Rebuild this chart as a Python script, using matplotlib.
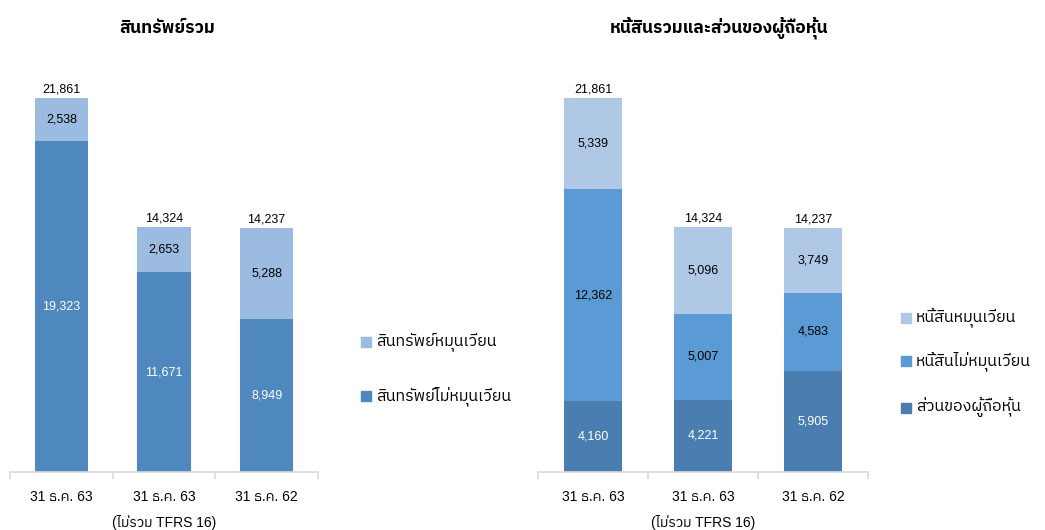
import matplotlib
matplotlib.use('Agg')
import matplotlib.pyplot as plt
from matplotlib import font_manager
from matplotlib.ft2font import FT2Font
from matplotlib.patches import Rectangle

# find a font with Thai glyphs
thai = None
for f in font_manager.fontManager.ttflist:
    try:
        if 0x0E2A in FT2Font(f.fname).get_charmap():
            thai = f.name
            if 'Sans' in f.name:
                break
    except Exception:
        pass
fams = ['Liberation Sans'] + ([thai] if thai else []) + ['DejaVu Sans']
plt.rcParams['font.family'] = fams

categories = ['31 ธ.ค. 63', '31 ธ.ค. 63\n(ไม่รวม TFRS 16)', '31 ธ.ค. 62']
totals = [21861, 14324, 14237]

# assets
noncurrent_assets = [19323, 11671, 8949]
current_assets = [2538, 2653, 5288]

# liabilities and equity
equity = [4160, 4221, 5905]
noncurrent_liab = [12362, 5007, 4583]
current_liab = [5339, 5096, 3749]

fig = plt.figure(figsize=(10.45, 5.3), dpi=100)
W, H = 1045, 530

def make_ax(x0, x1):
    ax = fig.add_axes([x0 / W, (H - 472) / H, (x1 - x0) / W, 402 / H])
    ax.set_xlim(-0.5, 2.5)
    ax.set_ylim(0, 21861 * 402 / 374)
    for s in ['top', 'right', 'left']:
        ax.spines[s].set_visible(False)
    ax.spines['bottom'].set_color('#d9d9d9')
    ax.spines['bottom'].set_linewidth(1.2)
    ax.set_yticks([])
    ax.set_xticks([-0.5, 0.5, 1.5, 2.5], minor=True)
    ax.tick_params(axis='x', which='minor', length=5, color='#d9d9d9', width=1.2)
    ax.set_xticks([0, 1, 2])
    ax.set_xticklabels(categories, fontsize=10, linespacing=1.9, va='top')
    ax.tick_params(axis='x', which='major', length=0, pad=13)
    return ax

def labels(ax, x, bottoms, vals, color):
    for xi, b, v in zip(x, bottoms, vals):
        ax.text(xi, b + v / 2, f'{v:,}', ha='center', va='center', fontsize=9, color=color)

x = [0, 1, 2]
w = 0.52

# left chart
ax1 = make_ax(10, 318)
c_nca, c_ca = '#4f88be', '#9bbbe0'
ax1.bar(x, noncurrent_assets, w, color=c_nca)
ax1.bar(x, current_assets, w, bottom=noncurrent_assets, color=c_ca)
labels(ax1, x, [0] * 3, noncurrent_assets, 'white')
labels(ax1, x, noncurrent_assets, current_assets, 'black')
for xi, t in zip(x, totals):
    ax1.text(xi, t + 150, f'{t:,}', ha='center', va='bottom', fontsize=9)

# right chart
ax2 = make_ax(538, 868)
c_eq, c_ncl, c_cl = '#4a7eb0', '#5b9bd5', '#afc8e6'
b2 = [a + b for a, b in zip(equity, noncurrent_liab)]
ax2.bar(x, equity, w, color=c_eq)
ax2.bar(x, noncurrent_liab, w, bottom=equity, color=c_ncl)
ax2.bar(x, current_liab, w, bottom=b2, color=c_cl)
labels(ax2, x, [0] * 3, equity, 'white')
labels(ax2, x, equity, noncurrent_liab, 'black')
labels(ax2, x, b2, current_liab, 'black')
for xi, t in zip(x, totals):
    ax2.text(xi, t + 150, f'{t:,}', ha='center', va='bottom', fontsize=9)

# titles
fig.text(167 / W, 1 - 28 / H, 'สินทรัพย์รวม', ha='center', va='center', fontsize=12.5, fontweight='bold')
fig.text(719 / W, 1 - 28 / H, 'หนี้สินรวมและส่วนของผู้ถือหุ้น', ha='center', va='center', fontsize=12.5, fontweight='bold')

# legends
def legend_item(xp, yp, color, text):
    fig.patches.append(Rectangle(((xp) / W, 1 - (yp + 5) / H), 10 / W, 10 / H,
                                 transform=fig.transFigure, color=color))
    fig.text((xp + 15) / W, 1 - yp / H, text, ha='left', va='center', fontsize=11.5)

legend_item(361, 342, c_ca, 'สินทรัพย์หมุนเวียน')
legend_item(361, 396, c_nca, 'สินทรัพย์ไม่หมุนเวียน')
legend_item(901, 318, c_cl, 'หนี้สินหมุนเวียน')
legend_item(901, 361, c_ncl, 'หนี้สินไม่หมุนเวียน')
legend_item(901, 408, c_eq, 'ส่วนของผู้ถือหุ้น')

fig.savefig('out.png', dpi=100)
